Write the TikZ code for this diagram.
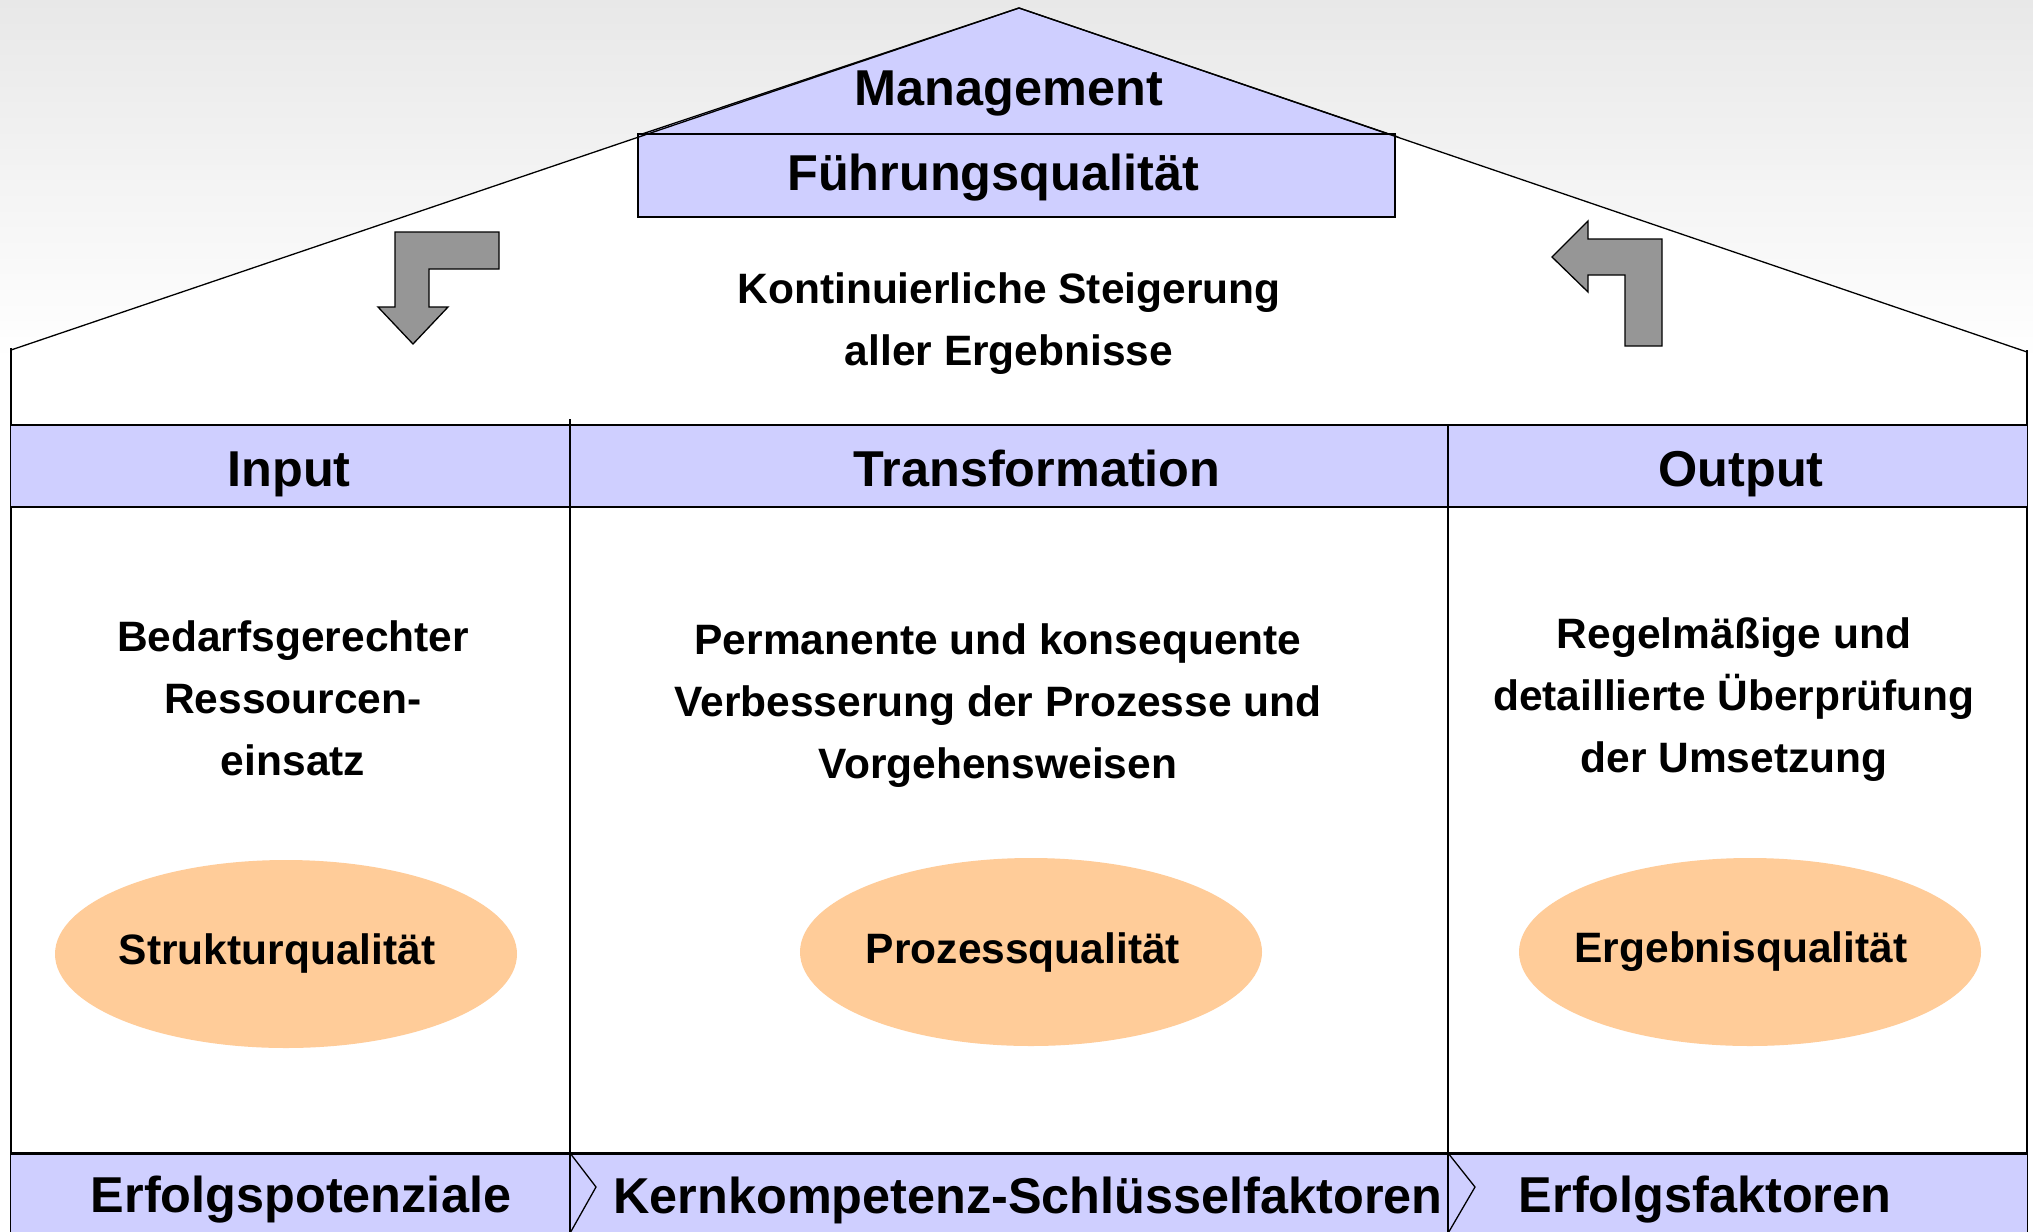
\documentclass[tikz,border=0pt]{standalone}
\usepackage{fontspec}
\setmainfont{Liberation Sans}
\usetikzlibrary{shapes.geometric}
\definecolor{lav}{HTML}{CFCFFF}
\definecolor{peach}{HTML}{FFCC99}
\definecolor{arrowgray}{HTML}{969696}
\definecolor{bggray}{HTML}{E8E8E8}
\begin{document}
\begin{tikzpicture}[x=0.5pt,y=-0.5pt,line width=0.65pt,
  big/.style={font=\fontsize{25.2}{30}\selectfont\bfseries, inner sep=0pt},
  small/.style={font=\fontsize{21.25}{31}\selectfont\bfseries, align=center, inner sep=0pt},
  bar/.style={fill=lav, draw=black},
  qual/.style={ellipse, fill=peach, minimum width=231pt, minimum height=94pt, inner sep=0pt,
    font=\fontsize{21.25}{31}\selectfont\bfseries},
  arrowshape/.style={fill=arrowgray, draw=black, line join=miter}]
\useasboundingbox (0,0) rectangle (2033,1231);
\clip (0,0) rectangle (2033,1231);
% background
\shade[top color=bggray, bottom color=white] (0,0) rectangle (2033,360);
% house body
\fill[white] (11,350) -- (1019,8) -- (2027,352) -- (2027,1240) -- (11,1240) -- cycle;
% management gable and box
\draw[bar] (1019,8) -- (642,134) -- (1395,136) -- cycle;
\draw[bar] (638,134) rectangle (1395,217);
% roof
\draw (11,350) -- (1019,8) -- (2027,352);
% walls
\draw (11,348) -- (11,1240);
\draw (2027,350) -- (2027,1240);
% header row
\fill[lav] (11,425) rectangle (2027,507);
\draw[line width=1.2pt] (11,425) -- (2027,425);
\draw (11,507) -- (2027,507);
% bottom band
\fill[lav] (11,1153) rectangle (2027,1240);
\draw[line width=1.5pt] (11,1153) -- (2027,1153);
% column dividers
\draw (570,419) -- (570,1240);
\draw (1448,425) -- (1448,1240);
% chevrons
\draw (570,1153) -- (596,1187) -- (569,1235);
\draw (1448,1153) -- (1475,1187) -- (1447,1235);
% cycle arrows
\draw[arrowshape] (395,232) -- (499,232) -- (499,269) -- (429,269) -- (429,307) -- (448,307) -- (413,344) -- (378,307) -- (395,307) -- cycle;
\draw[arrowshape] (1662,239) -- (1662,346) -- (1625,346) -- (1625,275) -- (1588,275) -- (1588,292) -- (1552,257) -- (1588,221) -- (1588,239) -- cycle;
% texts
\node[big] (mgmt) at (1009,94) {Management};
\node[big] (fq) at (993,178) {Führungsqualität};
\node[small] (kont) at (1009,324) {Kontinuierliche Steigerung\\aller Ergebnisse};
\node[big, anchor=base] (inp) at (289,486) {Input};
\node[big, anchor=base] (trans) at (1037,486) {Transformation};
\node[big, anchor=base] (outp) at (1741,486) {Output};
\node[small] (t1) at (293,698) {Bedarfsgerechter\\Ressourcen-\\einsatz};
\node[small] (t2) at (998,706) {Permanente und konsequente\\Verbesserung der Prozesse und\\Vorgehensweisen};
\node[small] (t3) at (1734,700) {Regelmäßige und\\detaillierte Überprüfung\\der Umsetzung};
\node[qual] (e1) at (286,954) {};
\node[qual] (e2) at (1031,952) {};
\node[qual] (e3) at (1750,952) {};
\node[small] (q1) at (277,953) {Strukturqualität};
\node[small] (q2) at (1023,952) {Prozessqualität};
\node[small] (q3) at (1741,952) {Ergebnisqualität};
\node[big] (b1) at (301,1200) {Erfolgspotenziale};
\node[big] (b2) at (1028,1200) {Kernkompetenz-Schlüsselfaktoren};
\node[big] (b3) at (1705,1200) {Erfolgsfaktoren};
\end{tikzpicture}
\end{document}
